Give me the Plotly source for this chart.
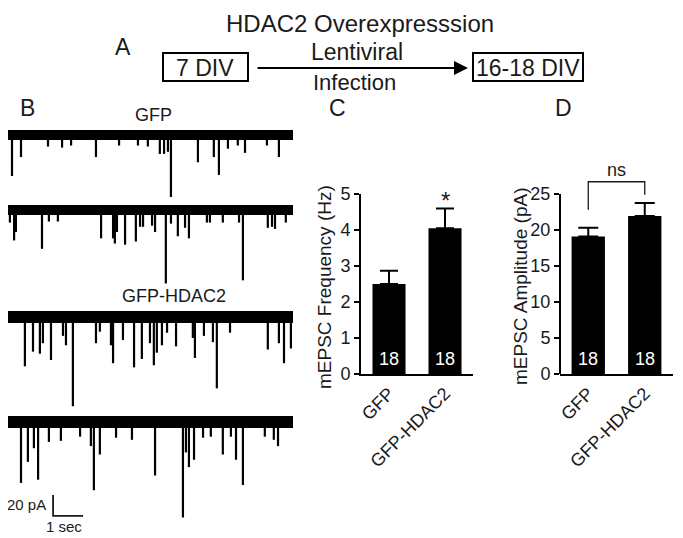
import plotly.graph_objects as go

W, H = 683, 538
PAGE_OFF = 8   # the page body margin shifts the figure by 8 px; compensate in layout
FONT = "Arial, Liberation Sans, sans-serif"
INK = "#1a1a1a"

# ---------------- Data ----------------
groups = ["GFP", "GFP-HDAC2"]
freq_mean = [2.5, 4.05]          # Hz
freq_sem = [0.37, 0.55]
amp_mean = [19.1, 21.95]         # pA
amp_sem = [1.2, 1.8]
n_cells = [18, 18]
freq_ticks = [0, 1, 2, 3, 4, 5]
amp_ticks = [0, 5, 10, 15, 20, 25]
ns_bracket = [22.8, 26.7, 24.9]  # left leg bottom, top, right leg bottom (pA)

# Example mEPSC sweeps: event times (s) and amplitudes (pA)
gfp1_t = [0.20, 0.50, 1.40, 1.87, 2.17, 3.00, 3.77, 4.40, 4.73, 5.13, 5.27, 5.40, 5.50,
          6.40, 6.93, 7.10, 7.40, 7.73, 7.97, 8.70, 9.10]
gfp1_a = [39, 21, 11, 12, 10, 21, 10, 10, 11, 18, 18, 16, 59,
          26, 21, 38, 13, 10, 17, 10, 21]
gfp2_t = [0.13, 0.27, 0.33, 1.20, 1.43, 1.73, 3.17, 3.57, 3.63, 3.70, 3.97, 4.33, 4.47,
          4.57, 4.87, 4.97, 5.33, 5.50, 5.73, 5.97, 6.10, 6.70, 6.80, 7.23, 7.77, 7.90,
          8.73, 8.87, 8.97, 9.33]
gfp2_a = [12, 29, 21, 37, 11, 11, 27, 27, 32, 21, 33, 30, 16,
          16, 15, 21, 70, 13, 25, 17, 27, 12, 12, 12, 12, 67,
          17, 16, 18, 12]
hdac1_t = [0.63, 0.90, 1.13, 1.23, 1.50, 1.90, 2.00, 2.23, 3.00, 3.13, 3.50, 3.57, 3.90,
           4.27, 4.53, 4.80, 4.93, 5.03, 5.20, 5.37, 5.67, 6.23, 6.30, 6.60, 6.90, 7.03,
           7.47, 8.73, 9.10, 9.27, 9.50]
hdac1_a = [47, 33, 35, 25, 41, 18, 27, 85, 25, 14, 27, 44, 22,
           48, 40, 25, 46, 34, 27, 15, 28, 20, 39, 18, 24, 68,
           15, 31, 25, 44, 30]
hdac2_t = [0.50, 0.73, 0.93, 1.07, 1.43, 1.83, 2.47, 2.83, 2.93, 3.13, 3.67, 4.20, 4.97,
           5.90, 6.00, 6.10, 6.27, 6.57, 6.83, 7.23, 7.50, 7.67, 7.90, 8.63, 8.93, 9.07]
hdac2_a = [58, 38, 25, 55, 19, 18, 14, 23, 65, 31, 15, 17, 51,
           91, 29, 43, 36, 15, 14, 31, 14, 36, 60, 14, 17, 23]
sweep_len = 9.57      # s
scale_pa = 20         # pA
scale_s = 1           # s

# ---------------- Layout helpers ----------------
def fx(px):
    return min(1.0, max(0.0, (px - PAGE_OFF) / W))

def fy(py):
    return min(1.0, max(0.0, 1 - (py - PAGE_OFF) / H))

sweeps = [(gfp1_t, gfp1_a), (gfp2_t, gfp2_a), (hdac1_t, hdac1_a), (hdac2_t, hdac2_a)]
sweep_offsets = [-14.3, -85.7, -187.6, -287.6]   # vertical placement of each sweep (pA)
band_widths = [10, 10, 12, 12]

fig = go.Figure()

# ---------------- Panel B traces ----------------
for (ts, amps), off, bw in zip(sweeps, sweep_offsets, band_widths):
    fig.add_trace(go.Scatter(x=[0, sweep_len], y=[off, off], mode="lines",
                             line=dict(color="black", width=bw),
                             xaxis="x3", yaxis="y3", showlegend=False, hoverinfo="skip"))
    xs, ys = [], []
    for t, a in zip(ts, amps):
        xs += [t, t, None]
        ys += [off, off - a, None]
    fig.add_trace(go.Scatter(x=xs, y=ys, mode="lines",
                             line=dict(color="black", width=2.2),
                             xaxis="x3", yaxis="y3", showlegend=False, hoverinfo="skip"))

# scale bar
sb_x0 = 1.57
sb_y0 = -357.1
fig.add_trace(go.Scatter(x=[sb_x0, sb_x0, sb_x0 + scale_s],
                         y=[sb_y0, sb_y0 - scale_pa, sb_y0 - scale_pa],
                         mode="lines", line=dict(color=INK, width=1.8),
                         xaxis="x3", yaxis="y3", showlegend=False, hoverinfo="skip"))

# ---------------- Panel C ----------------
fig.add_trace(go.Bar(x=groups, y=freq_mean, marker=dict(color="black", line=dict(width=0)),
                     width=0.59,
                     error_y=dict(type="data", symmetric=False, array=freq_sem,
                                  arrayminus=[0, 0], color="black", thickness=2, width=9),
                     xaxis="x", yaxis="y", showlegend=False))
# ---------------- Panel D ----------------
fig.add_trace(go.Bar(x=groups, y=amp_mean, marker=dict(color="black", line=dict(width=0)),
                     width=0.59,
                     error_y=dict(type="data", symmetric=False, array=amp_sem,
                                  arrayminus=[0, 0], color="black", thickness=2, width=10),
                     xaxis="x2", yaxis="y2", showlegend=False))
fig.add_trace(go.Scatter(x=[groups[0], groups[0], groups[1], groups[1]],
                         y=[ns_bracket[0], ns_bracket[1], ns_bracket[1], ns_bracket[2]],
                         mode="lines", line=dict(color=INK, width=1.3),
                         xaxis="x2", yaxis="y2", showlegend=False, hoverinfo="skip"))

ax_common = dict(showgrid=False, zeroline=False, showline=True, linecolor="black",
                 linewidth=2, automargin=False,
                 tickfont=dict(size=18, color=INK, family=FONT))

# traces panel: visible window starts where the page margin ends
t_left = (PAGE_OFF - 6) / 30.0

fig.update_layout(
    template="none",
    autosize=False,
    width=W, height=H, margin=dict(l=0, r=0, t=0, b=0, pad=0),
    paper_bgcolor="white", plot_bgcolor="rgba(0,0,0,0)",
    font=dict(family=FONT, color=INK),
    xaxis=dict(domain=[fx(361), fx(473)], anchor="y", type="category",
               range=[-0.5, 1.5], ticks="", tickangle=-45, **ax_common),
    yaxis=dict(domain=[fy(374), fy(194)], anchor="x", range=[0, 5],
               tickvals=freq_ticks, ticks="outside", ticklen=5, tickwidth=2,
               tickcolor="black", **ax_common),
    xaxis2=dict(domain=[fx(560), fx(673)], anchor="y2", type="category",
                range=[-0.5, 1.5], ticks="", tickangle=-45, **ax_common),
    yaxis2=dict(domain=[fy(374), fy(374 - 28 * 7.2)], anchor="x2", range=[0, 28],
                tickvals=amp_ticks, ticks="outside", ticklen=5, tickwidth=2,
                tickcolor="black", **{**ax_common, "showline": False}),
    xaxis3=dict(domain=[fx(PAGE_OFF), fx(293)], anchor="y3", range=[t_left, sweep_len],
                visible=False, automargin=False),
    yaxis3=dict(domain=[fy(530), fy(120)], anchor="x3", range=[-390.5, 0],
                visible=False, automargin=False),
    bargap=0.4,
)

shapes = [
    # y-axis line of panel D (only up to 25 pA)
    dict(type="line", xref="x2 domain", x0=0, x1=0, yref="y2", y0=0, y1=amp_ticks[-1],
         line=dict(color="black", width=2)),
    # schematic boxes
    dict(type="rect", xref="paper", yref="paper", x0=fx(163), x1=fx(248), y0=fy(81), y1=fy(53),
         line=dict(color="black", width=2)),
    dict(type="rect", xref="paper", yref="paper", x0=fx(473), x1=fx(583), y0=fy(81), y1=fy(53),
         line=dict(color="black", width=2)),
]
fig.update_layout(shapes=shapes)

def txt(x, y, s, size, **kw):
    d = dict(x=fx(x), y=fy(y), xref="paper", yref="paper", text=s, showarrow=False,
             font=dict(size=size, color=kw.pop("color", INK), family=FONT),
             xanchor=kw.pop("xanchor", "center"), yanchor=kw.pop("yanchor", "middle"))
    d.update(kw)
    return d

ann = [
    txt(360, 8, "HDAC2 Overexpresssion", 24, yanchor="top"),
    txt(123, 47, "A", 23),
    txt(205, 68, "7 DIV", 23),
    txt(528, 68, "16-18 DIV", 23),
    txt(357, 52, "Lentiviral", 23),
    txt(354, 82, "Infection", 22),
    txt(27, 108, "B", 23),
    txt(337, 108, "C", 23),
    txt(563, 108, "D", 23),
    txt(153, 115, "GFP", 18),
    txt(174, 296, "GFP-HDAC2", 18),
    txt(48, 504, "20 pA", 15, xanchor="right"),
    txt(64, 526, "1 sec", 15),
    txt(324, 287, "mEPSC Frequency (Hz)", 19, textangle=-90),
    txt(520, 287, "mEPSC Amplitude (pA)", 19, textangle=-90),
    # arrow
    dict(x=fx(468), y=fy(68), xref="paper", yref="paper", ax=-212, ay=0,
         showarrow=True, arrowhead=2, arrowsize=1.4, arrowwidth=2, arrowcolor="black", text=""),
]
for g, n in zip(groups, n_cells):
    ann.append(dict(x=g, y=0, xref="x", yref="y", text=str(n), showarrow=False,
                    yanchor="bottom", yshift=3, font=dict(size=18, color="white", family=FONT)))
    ann.append(dict(x=g, y=0, xref="x2", yref="y2", text=str(n), showarrow=False,
                    yanchor="bottom", yshift=3, font=dict(size=18, color="white", family=FONT)))
ann.append(dict(x=groups[1], y=freq_mean[1] + freq_sem[1], xref="x", yref="y", text="*",
                showarrow=False, yanchor="bottom", yshift=-8,
                font=dict(size=24, color=INK, family=FONT)))
ann.append(dict(x=0.5, y=ns_bracket[1], xref="x2", yref="y2", text="ns", showarrow=False,
                yanchor="bottom", yshift=0, font=dict(size=18, color=INK, family=FONT)))
fig.update_layout(annotations=ann)

fig.write_html("out.html")
